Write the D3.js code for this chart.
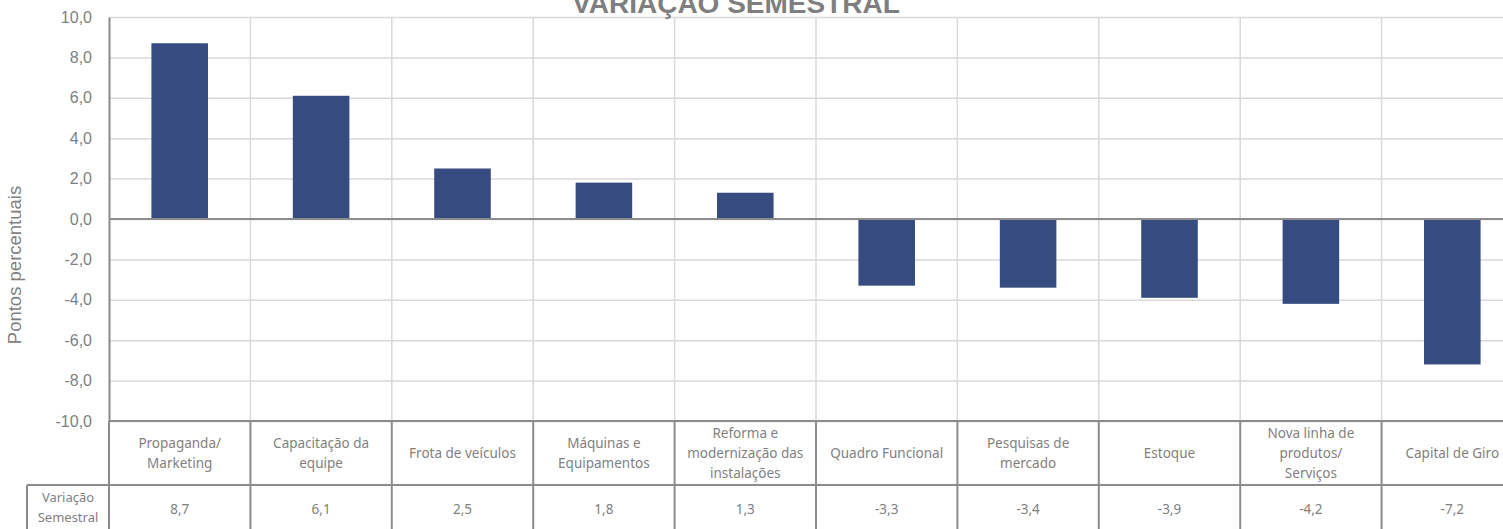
<!DOCTYPE html>
<html>
<head>
<meta charset="utf-8">
<script src="https://cdn.jsdelivr.net/npm/d3@7"></script>
<style>
  body { margin: 0; background: #fff; overflow: hidden; }
  text { font-family: "Noto Sans", sans-serif; }
</style>
</head>
<body>
<div id="grafico"></div>
<script>
'use strict'

//---------------------------- DADOS --------------------------------//
var categorias = [
  'Propaganda/\nMarketing',
  'Capacitação da\nequipe',
  'Frota de veículos',
  'Máquinas e\nEquipamentos',
  'Reforma e\nmodernização das\ninstalações',
  'Quadro Funcional',
  'Pesquisas de\nmercado',
  'Estoque',
  'Nova linha de\nprodutos/\nServiços',
  'Capital de Giro'
];
var valores = [8.7, 6.1, 2.5, 1.8, 1.3, -3.3, -3.4, -3.9, -4.2, -7.2];
var ticksY = [-10, -8, -6, -4, -2, 0, 2, 4, 6, 8, 10];
var nomeSerie = ['Variação', 'Semestral'];
var titulo = 'VARIAÇÃO SEMESTRAL';
var tituloEixoY = 'Pontos percentuais';

//---------------------------- LAYOUT --------------------------------//
var W = 1503, H = 529;
var pEsq = 109, pDir = 1523, pTopo = 17, pBase = 421;
var linhaCat = 485;   // fim da linha das categorias
var cabecalhoX = 27;  // inicio da celula "Variação Semestral"
var cinzaGrade = '#d9d9d9', cinzaTabela = '#8c8c8c', cinzaTexto = '#7f7f7f';
var arial = '"Liberation Sans", Arial, sans-serif';

// formato brasileiro: virgula decimal, hifen como sinal de menos
var locale = d3.formatLocale({ decimal: ',', thousands: '.', grouping: [3], currency: ['R$', ''], minus: '-' });
var fmt = locale.format('.1f');

var svg = d3.select('#grafico').append('svg')
  .attr('width', W)
  .attr('height', H);

// Escalas
var x = d3.scaleBand().domain(d3.range(categorias.length)).range([pEsq, pDir]).paddingInner(0).paddingOuter(0);
var y = d3.scaleLinear().domain([-10, 10]).range([pBase, pTopo]);
var largura = x.bandwidth() * 0.4;

// Grade horizontal
svg.append('g')
  .attr('transform', 'translate(' + pEsq + ',0)')
  .call(d3.axisLeft(y).tickValues(ticksY).tickSize(-(pDir - pEsq)).tickFormat(''))
  .call(g => g.select('.domain').remove())
  .selectAll('line')
  .attr('stroke', cinzaGrade)
  .attr('stroke-width', 1.5);

// Grade vertical (separadores de categorias)
svg.append('g')
  .selectAll('line')
  .data(d3.range(1, categorias.length))
  .join('line')
  .attr('x1', d => x(d)).attr('x2', d => x(d))
  .attr('y1', pTopo).attr('y2', pBase)
  .attr('stroke', cinzaGrade)
  .attr('stroke-width', 1.5);

// Barras
svg.append('g')
  .selectAll('rect')
  .data(valores)
  .join('rect')
  .attr('x', (d, i) => x(i) + (x.bandwidth() - largura) / 2)
  .attr('width', largura)
  .attr('y', d => y(Math.max(0, d)))
  .attr('height', d => Math.abs(y(d) - y(0)))
  .attr('fill', '#364b7f');

// Linha do zero
svg.append('line')
  .attr('x1', pEsq).attr('x2', pDir)
  .attr('y1', y(0)).attr('y2', y(0))
  .attr('stroke', '#8c8c8c')
  .attr('stroke-width', 2);

// Eixo Y (rotulos)
var eixoY = svg.append('g')
  .attr('transform', 'translate(' + pEsq + ',0)')
  .call(d3.axisLeft(y).tickValues(ticksY).tickSize(0).tickPadding(17).tickFormat(fmt));
eixoY.select('.domain').attr('stroke', cinzaTabela).attr('stroke-width', 2);
eixoY.selectAll('text')
  .attr('fill', cinzaTexto)
  .style('font-size', '16px')
  .style('font-family', arial);

// Titulo do eixo Y
svg.append('text')
  .attr('transform', 'translate(21,' + 265 + ') rotate(-90)')
  .attr('text-anchor', 'middle')
  .attr('fill', cinzaTexto)
  .style('font-family', arial)
  .style('font-size', '18.5px')
  .text(tituloEixoY);

// Titulo
svg.append('text')
  .attr('x', 736)
  .attr('y', 13)
  .attr('text-anchor', 'middle')
  .attr('fill', cinzaTexto)
  .style('font-family', arial)
  .style('font-size', '28px')
  .style('font-weight', 'bold')
  .text(titulo);

//---------------------------- TABELA --------------------------------//
var tabela = svg.append('g');
var linhaTabela = function (x1, y1, x2, y2) {
  tabela.append('line')
    .attr('x1', x1).attr('y1', y1).attr('x2', x2).attr('y2', y2)
    .attr('stroke', cinzaTabela).attr('stroke-width', 2);
};
linhaTabela(pEsq, pBase, pDir, pBase);
linhaTabela(cabecalhoX, linhaCat, pDir, linhaCat);
linhaTabela(pEsq, pBase, pEsq, H);
linhaTabela(cabecalhoX, linhaCat, cabecalhoX, H);
d3.range(1, categorias.length).forEach(function (i) {
  linhaTabela(x(i), pBase, x(i), H);
});

var lh = 20;
// Rotulos das categorias
tabela.selectAll('text.cat')
  .data(categorias)
  .join('text')
  .attr('class', 'cat')
  .attr('text-anchor', 'middle')
  .attr('fill', cinzaTexto)
  .style('font-size', '13.5px')
  .each(function (d, i) {
    var linhas = d.split('\n');
    var y0 = (pBase + linhaCat) / 2 - (linhas.length - 1) * lh / 2 + 5;
    d3.select(this).selectAll('tspan')
      .data(linhas)
      .join('tspan')
      .attr('x', x(i) + x.bandwidth() / 2)
      .attr('y', (l, k) => y0 + k * lh)
      .text(l => l);
  });

// Valores
tabela.selectAll('text.val')
  .data(valores)
  .join('text')
  .attr('class', 'val')
  .attr('x', (d, i) => x(i) + x.bandwidth() / 2)
  .attr('y', 514)
  .attr('text-anchor', 'middle')
  .attr('fill', cinzaTexto)
  .style('font-size', '13.5px')
  .text(fmt);

// Cabecalho da serie
tabela.append('text')
  .attr('text-anchor', 'middle')
  .attr('fill', cinzaTexto)
  .style('font-size', '13px')
  .selectAll('tspan')
  .data(nomeSerie)
  .join('tspan')
  .attr('x', (cabecalhoX + pEsq) / 2)
  .attr('y', (d, k) => 502 + k * 20)
  .text(d => d);
</script>
</body>
</html>
